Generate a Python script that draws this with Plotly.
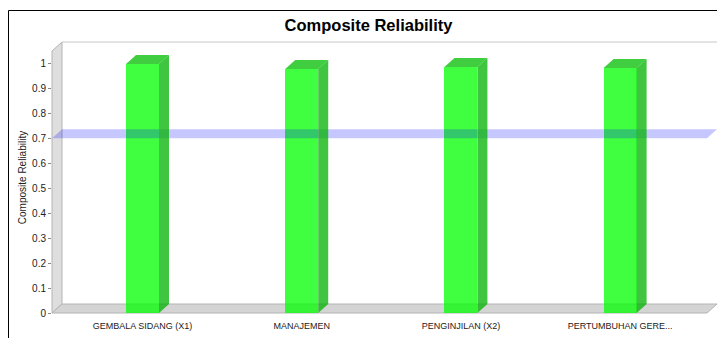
import plotly.graph_objects as go

# ---- data -----------------------------------------------------------------
CATEGORIES = ["GEMBALA SIDANG (X1)", "MANAJEMEN", "PENGINJILAN (X2)", "PERTUMBUHAN GERE..."]
VALUES = [0.998, 0.978, 0.986, 0.982]
THRESHOLD = 0.7
Y_TICKS = [0, 0.1, 0.2, 0.3, 0.4, 0.5, 0.6, 0.7, 0.8, 0.9, 1.0]
Y_TICK_TEXT = ["0", "0.1", "0.2", "0.3", "0.4", "0.5", "0.6", "0.7", "0.8", "0.9", "1"]
TITLE = "Composite Reliability"
Y_TITLE = "Composite Reliability"

# ---- geometry of the pseudo-3D plot ---------------------------------------
W, H = 717, 338
ML, MR, MT, MB = 52, 0, 42, 25
PW, PH = W - ML - MR, H - MT - MB          # full plot area (front + depth)
DX, DY = 10, 9                             # 3D depth offset in px
Y_MAX = 1.05
PPU_Y = (PH - DY) / Y_MAX                  # px per value unit
PPU_X = 159.2                              # px per category
X0 = -0.5686                               # value at left edge of front face
BAR_W = 33 / PPU_X

ddx = DX / PPU_X                           # depth in data units
ddy = DY / PPU_Y
x_front_end = X0 + (PW - DX) / PPU_X
x_full_end = X0 + PW / PPU_X
y_full_end = PH / PPU_Y

FRONT = "rgba(0,255,0,0.75)"
SIDE = "rgba(0,178,0,0.75)"
TOP = "rgba(0,190,0,0.75)"
BAND = "rgba(0,0,255,0.22)"

fig = go.Figure()

# threshold band drawn as a flat slab at 0.7
fig.add_trace(go.Scatter(
    x=[X0, x_front_end, x_full_end, X0 + ddx, X0],
    y=[THRESHOLD, THRESHOLD, THRESHOLD + ddy, THRESHOLD + ddy, THRESHOLD],
    fill="toself", fillcolor=BAND, mode="lines", line=dict(width=0),
    hoverinfo="skip", showlegend=False, xaxis="x2", yaxis="y2"))

# bars: front faces
fig.add_trace(go.Bar(
    x=list(range(len(CATEGORIES))), y=VALUES, width=BAR_W,
    marker=dict(color=FRONT, line=dict(width=0)),
    showlegend=False, xaxis="x2", yaxis="y2"))

# bars: side and top faces
for i, v in enumerate(VALUES):
    xl, xr = i - BAR_W / 2, i + BAR_W / 2
    fig.add_trace(go.Scatter(
        x=[xr, xr + ddx, xr + ddx, xr, xr],
        y=[0, ddy, v + ddy, v, 0],
        fill="toself", fillcolor=SIDE, mode="lines", line=dict(width=0),
        hoverinfo="skip", showlegend=False, xaxis="x2", yaxis="y2"))
    fig.add_trace(go.Scatter(
        x=[xl, xr, xr + ddx, xl + ddx, xl],
        y=[v, v, v + ddy, v + ddy, v],
        fill="toself", fillcolor=TOP, mode="lines", line=dict(width=0),
        hoverinfo="skip", showlegend=False, xaxis="x2", yaxis="y2"))

# paper helpers for walls
def px(xp):
    return (xp - ML) / PW

def py(yp):
    return (H - MB - yp) / PH

fx0, bx0 = px(ML), px(ML + DX)
fxe, bxe = px(W - DX), px(W)
fy0, by0 = py(H - MB), py(H - MB - DY)
fyt, byt = py(MT + DY), py(MT)

wall_line = dict(color="#b4b4b4", width=1)
shapes = [
    # left wall
    dict(type="path", xref="paper", yref="paper", layer="below",
         path=f"M{fx0},{fy0} L{fx0},{fyt} L{bx0},{byt} L{bx0},{by0} Z",
         fillcolor="#dedede", line=wall_line),
    # floor
    dict(type="path", xref="paper", yref="paper", layer="below",
         path=f"M{fx0},{fy0} L{bx0},{by0} L{bxe},{by0} L{fxe},{fy0} Z",
         fillcolor="#d4d4d4", line=wall_line),
    # back wall top edge
    dict(type="line", xref="paper", yref="paper", layer="below",
         x0=bx0, x1=bxe, y0=byt, y1=byt, line=dict(color="#c8c8c8", width=1)),
    # panel border
    dict(type="line", xref="paper", yref="paper",
         x0=px(8.5), x1=px(8.5), y0=py(10.5), y1=py(H + 2),
         line=dict(color="black", width=1)),
    dict(type="line", xref="paper", yref="paper",
         x0=px(8.5), x1=px(W + 2), y0=py(10.5), y1=py(10.5),
         line=dict(color="black", width=1)),
]

fig.update_layout(
    width=W, height=H,
    margin=dict(l=ML, r=MR, t=MT, b=MB, pad=0),
    paper_bgcolor="white", plot_bgcolor="rgba(0,0,0,0)",
    font=dict(family="Liberation Sans, Arial, sans-serif", color="#333333"),
    title=dict(text=f"<b>{TITLE}</b>", x=368.5 / W, xanchor="center",
               y=1 - 25.5 / H, yanchor="middle", yref="container",
               font=dict(size=16.5, color="black",
                         family="Liberation Sans, Arial, sans-serif")),
    # back wall with grid lines
    xaxis=dict(domain=[DX / PW, 1], range=[0, 1], visible=False, anchor="y"),
    yaxis=dict(domain=[DY / PH, 1], range=[0, Y_MAX], anchor="x",
               tickvals=Y_TICKS[1:], showticklabels=False, ticks="",
               showgrid=True, gridcolor="#cfcfcf", gridwidth=1, griddash="2px,2px",
               zeroline=False, showline=False),
    # front face: data and labels
    xaxis2=dict(domain=[0, 1], range=[X0, x_full_end], anchor="y2",
                tickvals=list(range(len(CATEGORIES))), ticktext=CATEGORIES,
                ticks="", showgrid=False, zeroline=False, showline=False,
                tickfont=dict(size=9, color="#222222"), ticklabelstandoff=6),
    yaxis2=dict(domain=[0, 1], range=[0, y_full_end], anchor="x2",
                tickvals=Y_TICKS, ticktext=Y_TICK_TEXT,
                ticks="outside", ticklen=3, tickcolor="#888888",
                showgrid=False, zeroline=False, showline=False,
                tickfont=dict(size=10, color="#222222"),
                title=dict(text=Y_TITLE, font=dict(size=10, color="#222222"), standoff=3)),
    shapes=shapes,
    bargap=0,
)

fig.write_html("out.html")
